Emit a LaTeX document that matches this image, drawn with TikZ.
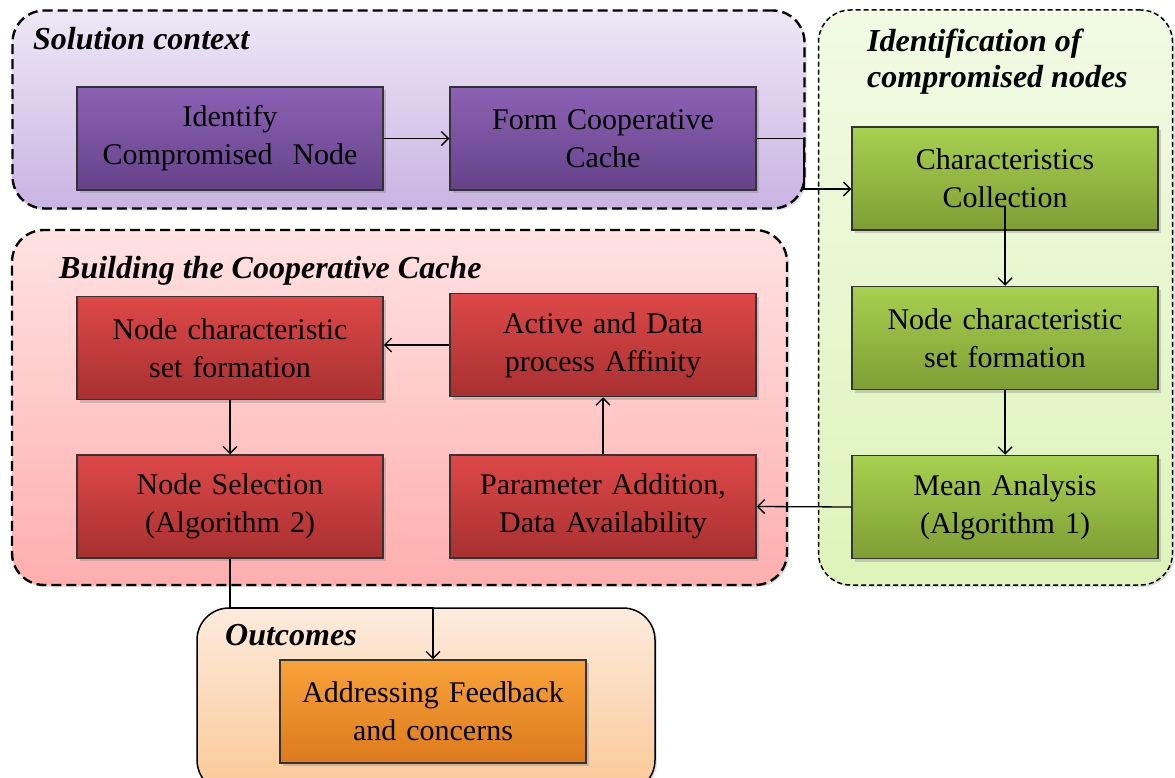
\documentclass[tikz,border=0pt]{standalone}
\usepackage{fontspec}
\setmainfont{Liberation Serif}
\usetikzlibrary{arrows.meta,shadows}
\definecolor{ctxT}{HTML}{EEE8F6}\definecolor{ctxB}{HTML}{C9B3E3}
\definecolor{purT}{HTML}{8C62B4}\definecolor{purB}{HTML}{65428A}
\definecolor{grnT}{HTML}{F2FAE4}\definecolor{grnB}{HTML}{DDF4BA}
\definecolor{gbxT}{HTML}{A8D050}\definecolor{gbxB}{HTML}{7E9E34}
\definecolor{redT}{HTML}{FFE2E2}\definecolor{redB}{HTML}{FFAEAE}
\definecolor{rbxT}{HTML}{DE4848}\definecolor{rbxB}{HTML}{A83030}
\definecolor{outT}{HTML}{FDEBDC}\definecolor{outB}{HTML}{FAC896}
\definecolor{obxT}{HTML}{F8A23A}\definecolor{obxB}{HTML}{DC7A1C}
\definecolor{edge}{HTML}{333333}
\tikzset{
  container/.style={rounded corners=32pt, inner sep=0pt,
    drop shadow={opacity=0.25, shadow xshift=2pt, shadow yshift=-2pt}},
  thickdash/.style={draw=black, line width=2.4pt, dash pattern=on 10pt off 5pt},
  thindash/.style={draw=black, line width=1.5pt, dash pattern=on 5pt off 3pt},
  box/.style={draw=edge, line width=1.5pt, minimum width=306pt, minimum height=103pt,
    inner sep=0pt, align=center, text width=300pt,
    font=\fontsize{30}{38}\selectfont,
    drop shadow={opacity=0.35, shadow xshift=3pt, shadow yshift=-3pt}},
  purbox/.style={box, top color=purT, bottom color=purB},
  grnbox/.style={box, top color=gbxT, bottom color=gbxB},
  redbox/.style={box, top color=rbxT, bottom color=rbxB},
  orabox/.style={box, top color=obxT, bottom color=obxB},
  title/.style={inner sep=0pt, anchor=base west, align=left,
    font=\fontsize{32}{36}\selectfont\bfseries\itshape},
  arr/.style={line width=1.3pt, -{Straight Barb[length=7pt,width=14pt]}},
  ln/.style={line width=1.3pt}
}
\begin{document}
\begin{tikzpicture}[x=1pt,y=-1pt]
\useasboundingbox (0,0) rectangle (1175,778);
\clip (0,0) rectangle (1175,778);
% containers
\node[container, thickdash, top color=ctxT, bottom color=ctxB,
  minimum width=792pt, minimum height=198pt] (ctx) at (408.5,109.5) {};
\node[container, thindash, top color=grnT, bottom color=grnB,
  minimum width=354pt, minimum height=575pt] (grn) at (995.5,297.5) {};
\node[container, thickdash, top color=redT, bottom color=redB,
  minimum width=775pt, minimum height=355pt] (red) at (399.5,407.5) {};
\node[container, draw=black, line width=1.5pt, top color=outT, bottom color=outB,
  minimum width=458pt, minimum height=184pt] (out) at (426,700) {};
% titles
\node[title] (t1) at (33,50) {Solution context};
\node[title] (t2) at (867,88) {Identification of\\compromised nodes};
\node[title] (t3) at (59,278) {Building the Cooperative Cache};
\node[title] (t4) at (225,645) {Outcomes};
% boxes
\node[purbox] (idn) at (230,138.5) {Identify\\Compromised~ Node};
\node[purbox] (form) at (603,138.5) {Form Cooperative\\Cache};
\node[grnbox] (cc) at (1005,178.5) {Characteristics\\Collection};
\node[grnbox] (ncg) at (1005,338) {Node characteristic\\set formation};
\node[grnbox] (mean) at (1005,507) {Mean Analysis\\(Algorithm 1)};
\node[redbox] (ncr) at (230,348) {Node characteristic\\set formation};
\node[redbox] (act) at (603,345) {Active and Data\\process Affinity};
\node[redbox] (sel) at (230,506.5) {Node Selection\\(Algorithm 2)};
\node[redbox] (par) at (603,506.5) {Parameter Addition,\\Data Availability};
\node[orabox] (addr) at (433,711.5) {Addressing Feedback\\and concerns};
% connectors
\coordinate (k1) at (804,189);
\coordinate (k2) at (433,608);
\draw[arr] (idn) -- (form);
\draw[arr] (form.east) -| (k1) -- (k1 -| cc.west);
\draw[arr] ([yshift=-28pt]cc.center) -- (ncg.north);
\draw[arr] (ncg.south) -- (mean.north);
\draw[arr] (mean.west) -- (par.east);
\draw[arr] (par.north) -- (act.south);
\draw[arr] (act.west) -- (act.west -| ncr.east);
\draw[arr] (ncr.south) -- (sel.north);
\draw[arr] (sel.south) |- (k2) -- (addr.north);
\end{tikzpicture}
\end{document}
